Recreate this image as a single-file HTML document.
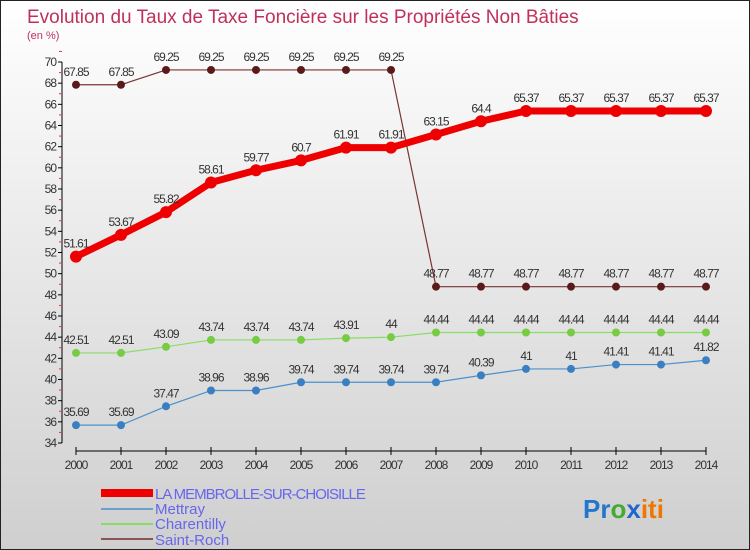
<!DOCTYPE html>
<html><head><meta charset="utf-8"><style>
body{margin:0}
#c{width:750px;height:550px;position:relative;box-sizing:border-box;border:1px solid #222;background:linear-gradient(#ffffff,#cfcfcf);font-family:"Liberation Sans",sans-serif;overflow:hidden}
svg text{font-family:"Liberation Sans",sans-serif}
</style></head><body>
<div id="c">
<svg id="s" width="750" height="550">
<text x="26" y="22" font-size="19" fill="#c0305a">Evolution du Taux de Taxe Foncière sur les Propriétés Non Bâties</text>
<text x="26" y="38" font-size="11" fill="#c0305a">(en %)</text>
<g id="axes"></g><g id="series"></g>
<g font-size="15" fill="#6666ee">
<rect x="100" y="488" width="52" height="8" fill="#ee0000"/>
<text x="154" y="498" letter-spacing="-1">LA MEMBROLLE-SUR-CHOISILLE</text>
<rect x="100" y="507" width="52" height="2" fill="#6a9fcf"/>
<text x="154" y="513">Mettray</text>
<rect x="100" y="522" width="52" height="2" fill="#88dd66"/>
<text x="154" y="528">Charentilly</text>
<rect x="100" y="537" width="52" height="2" fill="#8a5555"/>
<text x="154" y="544">Saint-Roch</text>
</g>
<g font-size="26" font-weight="bold">
<text x="582" y="517"><tspan fill="#2277cc">Pr</tspan><tspan fill="#44aa33">o</tspan><tspan fill="#2266cc">x</tspan><tspan fill="#ee7700">iti</tspan></text>
</g>
</svg>
</div>
<script>
const years=[2000,2001,2002,2003,2004,2005,2006,2007,2008,2009,2010,2011,2012,2013,2014];
const membrolle=[51.61,53.67,55.82,58.61,59.77,60.7,61.91,61.91,63.15,64.4,65.37,65.37,65.37,65.37,65.37];
const mettray=[35.69,35.69,37.47,38.96,38.96,39.74,39.74,39.74,39.74,40.39,41,41,41.41,41.41,41.82];
const charentilly=[42.51,42.51,43.09,43.74,43.74,43.74,43.91,44,44.44,44.44,44.44,44.44,44.44,44.44,44.44];
const saintRoch=[67.85,67.85,69.25,69.25,69.25,69.25,69.25,69.25,48.77,48.77,48.77,48.77,48.77,48.77,48.77];
const yTicks=[34,36,38,40,42,44,46,48,50,52,54,56,58,60,62,64,66,68,70];
const NS="http://www.w3.org/2000/svg";
const X=i=>75+i*45;
const Y=v=>442-(v-34)*(381/36);
function mk(t,a,p){const e=document.createElementNS(NS,t);for(const k in a)e.setAttribute(k,a[k]);p.appendChild(e);return e;}
const ax=document.getElementById('axes');
let e=mk('line',{x1:61,y1:61,x2:61,y2:442,stroke:'#000'},ax);


e=mk('line',{x1:75,y1:450,x2:705,y2:450,stroke:'#000'},ax);


yTicks.forEach(v=>{
  mk('line',{x1:57,x2:61,y1:Y(v),y2:Y(v),stroke:'#000'},ax);
  mk('line',{x1:58,x2:61,y1:Y(v+1),y2:Y(v+1),stroke:'#e33'},ax);
  const t=mk('text',{x:55,y:Y(v)+4,'font-size':12,'text-anchor':'end',fill:'#333','letter-spacing':'-1'},ax);
  t.textContent=v;
  
  
});
years.forEach((y,i)=>{
  mk('line',{x1:X(i),x2:X(i),y1:446,y2:454,stroke:'#000'},ax);
  const t=mk('text',{x:X(i),y:468,'font-size':12,'text-anchor':'middle',fill:'#333','letter-spacing':'-1'},ax);
  t.textContent=y;
  
  
});
const sg=document.getElementById('series');
function draw(vals,name,color,w,r,dot){
  const g=mk('g',{},sg);
  
  
  mk('polyline',{points:vals.map((v,i)=>X(i)+','+Y(v)).join(' '),fill:'none',stroke:color,'stroke-width':w,'stroke-linejoin':'round'},g);
  vals.forEach((v,i)=>{
    const c=mk('circle',{cx:X(i),cy:Y(v),r:r,fill:dot},g);
    
    
    const t=mk('text',{x:X(i),y:Y(v)-9,'font-size':12,'text-anchor':'middle',fill:'#333','letter-spacing':'-1'},g);
    t.textContent=v;
    
    
  });
}
draw(saintRoch,'saint-roch','#7a3333',1.2,4,'#5a1a1a');
draw(charentilly,'charentilly','#88dd66',1.2,4,'#77cc44');
draw(mettray,'mettray','#4a90cc',1.2,4,'#3a80c0');
draw(membrolle,'membrolle','#ee0000',7,6,'#ee0000');
</script>
</body></html>
